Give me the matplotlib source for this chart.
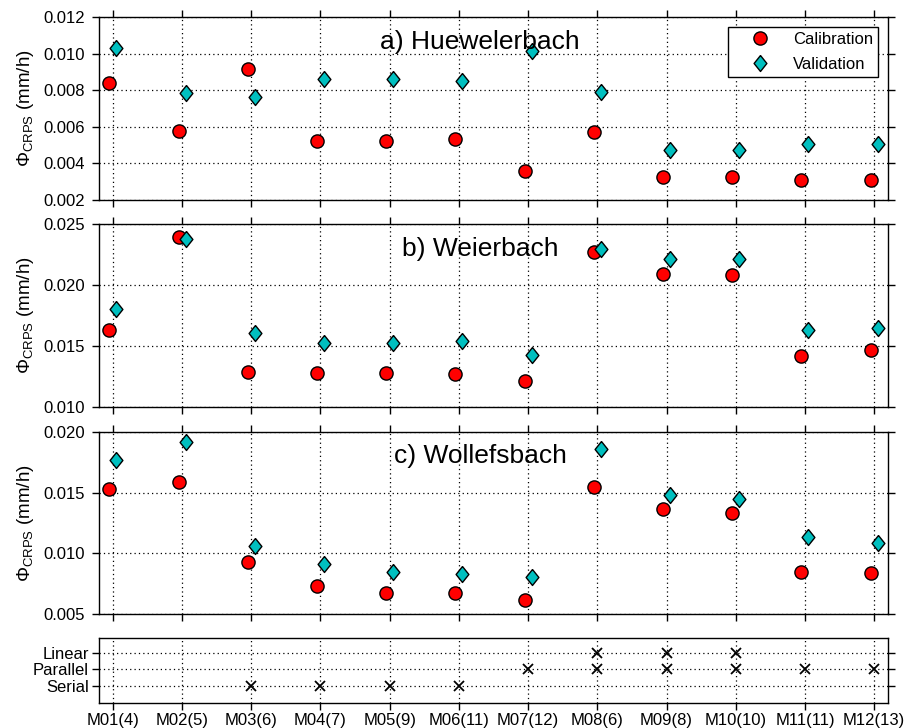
import numpy as np
import matplotlib.pyplot as plt
from matplotlib.ticker import FormatStrFormatter

plt.rcParams['font.family'] = ['Liberation Sans', 'DejaVu Sans']
plt.rcParams['mathtext.fontset'] = 'custom'
plt.rcParams['mathtext.rm'] = 'Liberation Sans'
plt.rcParams['mathtext.it'] = 'Liberation Sans:italic'

models = ['M01(4)', 'M02(5)', 'M03(6)', 'M04(7)', 'M05(9)', 'M06(11)',
          'M07(12)', 'M08(6)', 'M09(8)', 'M10(10)', 'M11(11)', 'M12(13)']

# CRPS scores (mm/h) per catchment
cal_hue = [0.00842, 0.00578, 0.00917, 0.00525, 0.00525, 0.00532,
           0.00359, 0.00574, 0.00328, 0.00328, 0.00309, 0.00309]
val_hue = [0.01034, 0.00788, 0.00762, 0.00862, 0.00864, 0.00851,
           0.01018, 0.00791, 0.00472, 0.00472, 0.00507, 0.00507]

cal_wei = [0.01636, 0.02394, 0.01289, 0.01281, 0.01281, 0.01270,
           0.01213, 0.02268, 0.02091, 0.02085, 0.01420, 0.01466]
val_wei = [0.01807, 0.02380, 0.01606, 0.01524, 0.01526, 0.01546,
           0.01431, 0.02298, 0.02214, 0.02212, 0.01633, 0.01652]

cal_wol = [0.01529, 0.01587, 0.00932, 0.00733, 0.00678, 0.00672,
           0.00618, 0.01546, 0.01365, 0.01332, 0.00845, 0.00842]
val_wol = [0.01767, 0.01915, 0.01061, 0.00913, 0.00845, 0.00831,
           0.00804, 0.01858, 0.01477, 0.01447, 0.01138, 0.01088]

# reservoir structure of each model
is_linear = [0, 0, 0, 0, 0, 0, 0, 1, 1, 1, 0, 0]
is_parallel = [0, 0, 0, 0, 0, 0, 1, 1, 1, 1, 1, 1]
is_serial = [0, 0, 1, 1, 1, 1, 0, 0, 0, 0, 0, 0]
structures = ['Serial', 'Parallel', 'Linear']

x = np.arange(1, len(models) + 1)
dx = 0.05
diamond = [(0, 1), (0.8, 0), (0, -1), (-0.8, 0), (0, 1)]


def style_axes(ax):
    ax.set_xlim(0.8, 12.2)
    ax.set_xticks(x)
    ax.grid(True, linestyle=(0, (1, 2.5)), color='k', linewidth=0.9)
    ax.tick_params(direction='out', top=True, right=True, length=5.3,
                   width=1, labelsize=12, labelbottom=False)
    ax.tick_params(axis='y', pad=5)
    for s in ax.spines.values():
        s.set_linewidth(1.0)


fig = plt.figure(figsize=(9.06, 7.28), dpi=100)
W, H = 906.0, 728.0
left, right = 99 / W, 888 / W
panels = [(17.3, 200.0), (224.0, 407.3), (431.7, 614.3)]
data = [(cal_hue, val_hue, 'a) Huewelerbach', 0.002, 0.012, 0.002),
        (cal_wei, val_wei, 'b) Weierbach', 0.010, 0.025, 0.005),
        (cal_wol, val_wol, 'c) Wollefsbach', 0.005, 0.020, 0.005)]

for (top, bot), (cal, val, title, lo, hi, step) in zip(panels, data):
    ax = fig.add_axes([left, 1 - bot / H, right - left, (bot - top) / H])
    ax.plot(x - dx, cal, 'o', color='#ff0000', mec='k', mew=1.0, ms=9.5,
            label='Calibration')
    ax.plot(x + dx, val, marker=diamond, ls='none', color='#00bfbf', mec='k',
            mew=1.0, ms=11.5, label='Validation')
    style_axes(ax)
    ax.set_ylim(lo, hi)
    ax.set_yticks(np.arange(lo, hi + step / 2, step))
    ax.yaxis.set_major_formatter(FormatStrFormatter('%.3f'))
    ax.set_ylabel(r'$\Phi_{\mathrm{CRPS}}$ (mm/h)', fontsize=13.5, labelpad=5)
    ax.text(0.483, 0.93, title, transform=ax.transAxes, ha='center',
            va='top', fontsize=19)
    if title.startswith('a)'):
        ax.legend(loc='upper right', numpoints=1, fontsize=12,
                  fancybox=False, edgecolor='k', framealpha=1,
                  borderaxespad=0.6, borderpad=0.3, handlelength=3.2,
                  handletextpad=0.4, labelspacing=0.6)

# model structure strip
ax = fig.add_axes([left, 1 - 702.7 / H, right - left, (702.7 - 637.7) / H])
for level, flags in zip([1, 2, 3], [is_serial, is_parallel, is_linear]):
    sel = np.array(flags, dtype=bool)
    ax.plot(x[sel], np.full(sel.sum(), level), 'x', color='k', ms=7, mew=1.3)
style_axes(ax)
ax.tick_params(top=False, labelbottom=True)
ax.tick_params(axis='x', pad=2)
ax.set_ylim(0, 3.9)
ax.set_yticks([1, 2, 3])
ax.set_yticklabels(structures)
ax.tick_params(axis='y', pad=2)
ax.set_xticklabels(models)

fig.savefig('out.png', dpi=100)
